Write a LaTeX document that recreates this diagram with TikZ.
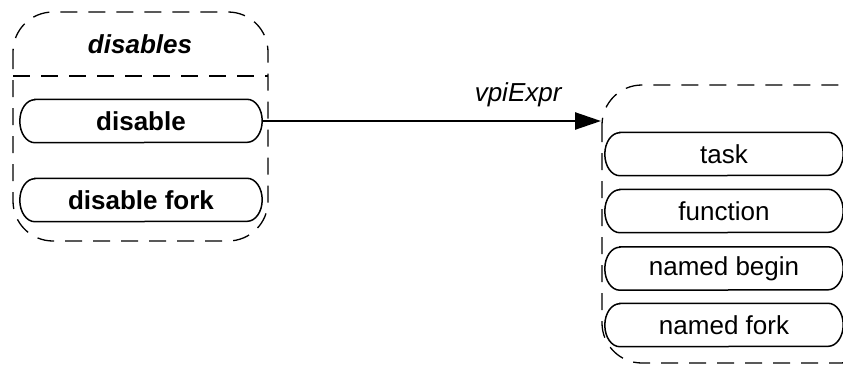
\documentclass[tikz,border=0pt]{standalone}
\usepackage{fontspec}
\setmainfont{Liberation Sans}
\usetikzlibrary{arrows.meta}
\newcommand\pilloutline[1]{%
  \draw[pillline] ([xshift=15pt]#1.north west) -- ([xshift=-15pt]#1.north east)
    arc[start angle=90,end angle=-90,x radius=15pt,y radius=21.5pt]
    -- ([xshift=15pt]#1.south west)
    arc[start angle=270,end angle=90,x radius=15pt,y radius=21.5pt] -- cycle;}
\begin{document}
\begin{tikzpicture}[x=1pt,y=1pt,
  grp/.style={draw,line width=1.3pt,dash pattern=on 17pt off 11pt,rounded corners=40pt},
  sep/.style={draw,line width=1.3pt,dash pattern=on 17pt off 11pt},
  pillline/.style={line width=1.5pt},
  item/.style={minimum height=43pt,inner sep=0pt,font=\fontsize{26}{30}\selectfont},
  bitem/.style={item,font=\fontsize{26}{30}\selectfont\bfseries},
  conn/.style={line width=2.5pt,-{Triangle[length=26pt,width=17pt]}}]
\useasboundingbox (0,0) rectangle (843,-365);
% left group
\path[grp] (13,-12) rectangle (268,-241);
\coordinate (sl) at (13,-76);
\coordinate (sr) at (268,-76);
\path[sep] (sl) -- (sr);
\node[anchor=base,font=\fontsize{26}{30}\selectfont\bfseries\itshape] (title) at (140,-53) {disables};
\node[bitem,minimum width=242pt] (dis) at (141,-121) {disable};
\node[bitem,minimum width=242pt] (disf) at (141,-200) {disable fork};
\pilloutline{dis}
\pilloutline{disf}
% right group
\path[grp] (602,-85) rectangle (880,-363);
\node[item,minimum width=238pt] (task) at (724,-154) {task};
\node[item,minimum width=238pt] (func) at (724,-211) {function};
\node[item,minimum width=238pt] (nb) at (724,-268.5) {named begin};
\node[item,minimum width=238pt] (nf) at (724,-325) {named fork};
\pilloutline{task}
\pilloutline{func}
\pilloutline{nb}
\pilloutline{nf}
% connector
\coordinate (tgt) at (601,-121);
\draw[conn] (dis.east) -- (tgt);
\node[anchor=base east,font=\fontsize{26}{30}\selectfont\itshape] (lbl) at (565,-101) {vpiExpr};
\end{tikzpicture}
\end{document}
